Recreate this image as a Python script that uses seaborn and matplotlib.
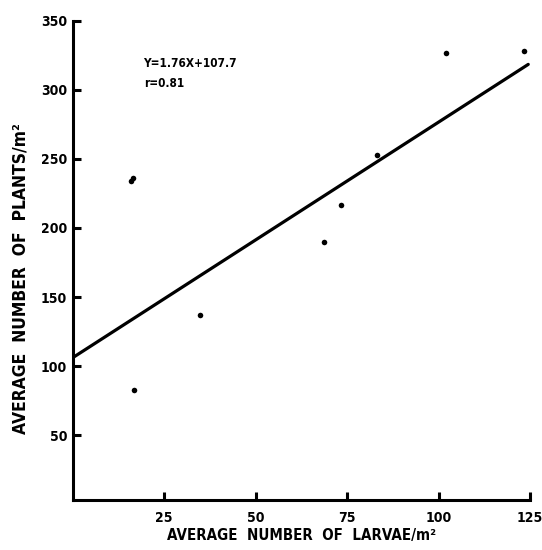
import matplotlib
matplotlib.use("Agg")
import matplotlib.pyplot as plt
import seaborn as sns
import pandas as pd

# larvae vs plants
larvae = [16.0, 16.5, 16.8, 34.8, 68.6, 73.3, 83.2, 102.1, 123.4]
plants = [234, 236, 83, 137, 190, 217, 253, 327, 328]

# fitted line as drawn (Y=1.76X+107.7 in the caption)
fit_x = [0, 124.5]
fit_y = [106, 318.5]

x_ticks = [25, 50, 75, 100, 125]
y_ticks = [50, 100, 150, 200, 250, 300, 350]

FONT = dict(fontweight='bold', fontstretch='condensed', color='black')


def setup_axes(ax: plt.Axes) -> None:
    """Old-style journal axes: thick left/bottom spines, ticks pointing inward."""
    for side in ['top', 'right']:
        ax.spines[side].set_visible(False)
    for side in ['left', 'bottom']:
        ax.spines[side].set_linewidth(2.2)
        ax.spines[side].set_color('black')
    ax.tick_params(axis='both', direction='in', length=6, width=2.2,
                   labelsize=10, colors='black')
    ax.tick_params(axis='y', pad=4)
    ax.tick_params(axis='x', pad=8)
    for lab in ax.get_xticklabels() + ax.get_yticklabels():
        lab.set_fontweight('bold')
        lab.set_fontstretch('condensed')


sns.set_style("ticks")
plt.rcParams['font.family'] = ['DejaVu Sans']

df = pd.DataFrame({'larvae': larvae, 'plants': plants})
line_df = pd.DataFrame({'x': fit_x, 'y': fit_y})

fig = plt.figure(figsize=(5.42, 5.5), dpi=100)
ax = fig.add_axes([0.134, 0.091, 0.844, 0.871])

sns.lineplot(data=line_df, x='x', y='y', color='black', linewidth=2.3, ax=ax)
sns.scatterplot(data=df, x='larvae', y='plants', color='black', s=16,
                edgecolor='black', linewidth=0, ax=ax)

ax.set_xlim(0, 125)
ax.set_ylim(3, 350)
ax.set_xticks(x_ticks)
ax.set_yticks(y_ticks)
setup_axes(ax)

ax.set_xlabel('AVERAGE  NUMBER  OF  LARVAE/m²', fontsize=10.8,
              labelpad=2, **FONT)
ax.set_ylabel('AVERAGE  NUMBER  OF  PLANTS/m²', fontsize=12.5, **FONT)
ax.yaxis.set_label_coords(-0.095, 0.463)

ax.text(19.3, 319, 'Y=1.76X+107.7', fontsize=8.5, va='center', **FONT)
ax.text(19.6, 305, 'r=0.81', fontsize=8.5, va='center', **FONT)

fig.savefig('out.png', dpi=100)
